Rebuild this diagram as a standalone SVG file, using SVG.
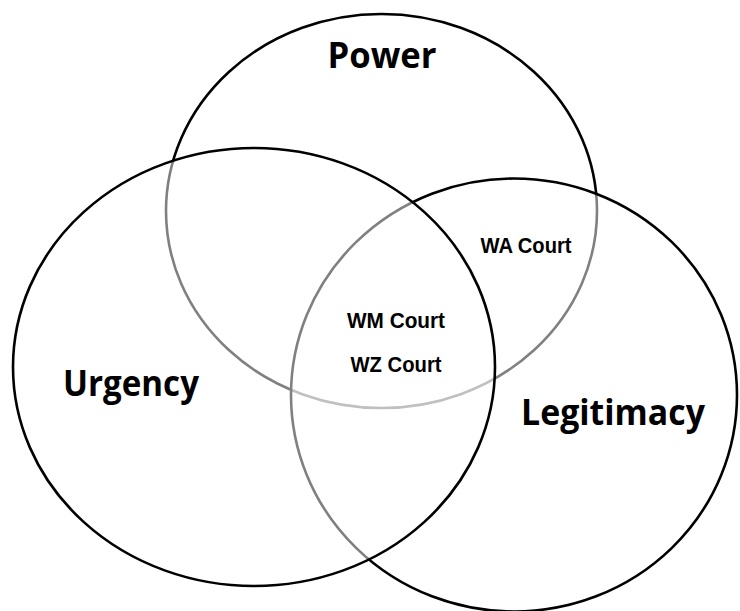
<svg xmlns="http://www.w3.org/2000/svg" width="740" height="611" viewBox="0 0 740 611">
<style>
.set{fill:#ffffff;fill-opacity:0.5;stroke:#000;stroke-width:2.6}
.big{font-family:"Open Sans","Liberation Sans",sans-serif;font-weight:700;font-size:36px;fill:#000;text-anchor:middle}
.small{font-family:"Liberation Sans",Arial,sans-serif;font-weight:700;font-size:22.5px;fill:#000;text-anchor:middle}
</style>
<rect width="740" height="611" fill="#ffffff"/>
<g id="power">
<ellipse class="set" cx="381.5" cy="211" rx="215.5" ry="197"/>
</g>
<g id="legitimacy">
<ellipse class="set" cx="514" cy="395" rx="223" ry="216.5"/>
</g>
<g id="urgency">
<ellipse class="set" cx="254" cy="367" rx="241" ry="219"/>
</g>
<g id="labels">
<text class="big" x="382" y="68" textLength="109" lengthAdjust="spacingAndGlyphs">Power</text>
<text class="big" x="131" y="396" textLength="136" lengthAdjust="spacingAndGlyphs">Urgency</text>
<text class="big" x="613" y="425" textLength="184" lengthAdjust="spacingAndGlyphs">Legitimacy</text>
</g>
<g id="wa-court"><text class="small" x="526" y="253" textLength="91" lengthAdjust="spacingAndGlyphs">WA Court</text></g>
<g id="wm-court"><text class="small" x="396" y="328" textLength="98" lengthAdjust="spacingAndGlyphs">WM Court</text></g>
<g id="wz-court"><text class="small" x="396" y="372" textLength="91" lengthAdjust="spacingAndGlyphs">WZ Court</text></g>
</svg>
